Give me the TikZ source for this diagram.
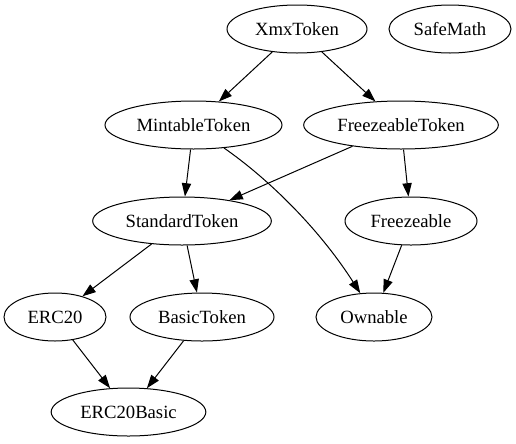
\documentclass[tikz,border=0pt]{standalone}
\usepackage{fontspec}
\newfontfamily\labelfont{Liberation Serif}
\usetikzlibrary{shapes.geometric,arrows.meta}
\begin{document}
\begin{tikzpicture}[x=0.75pt,y=-0.75pt,
  cls/.style={draw,ellipse,inner sep=0pt,minimum height=36pt,line width=0.75pt,
    font=\labelfont\fontsize{14}{16.8}\selectfont},
  dep/.style={line width=0.75pt,-{Triangle[length=10pt,width=7pt]}}]
\useasboundingbox (0,0) rectangle (516,443);
% classes
\node[cls,minimum width=105pt]   (xmx)  at (297,29)  {XmxToken};
\node[cls,minimum width=91.5pt]  (safe) at (450,29)  {SafeMath};
\node[cls,minimum width=132.75pt](mint) at (193.5,125) {MintableToken};
\node[cls,minimum width=146pt]   (frzt) at (401,125) {FreezeableToken};
\node[cls,minimum width=134pt]   (std)  at (182,221) {StandardToken};
\node[cls,minimum width=99pt]    (frz)  at (411,221) {Freezeable};
\node[cls,minimum width=76.5pt]  (erc)  at (55,317)  {ERC20};
\node[cls,minimum width=108pt]   (basic) at (202,317) {BasicToken};
\node[cls,minimum width=87pt]    (own)  at (374,317) {Ownable};
\node[cls,minimum width=116pt]   (ercb) at (128.5,412) {ERC20Basic};
% inheritance
\draw[dep] (xmx) -- (mint);
\draw[dep] (xmx) -- (frzt);
\draw[dep] (mint) -- (std);
\draw[dep] (mint.-37) .. controls (270,180) and (320,230) .. (own.120);
\draw[dep] (frzt) -- (std);
\draw[dep] (frzt) -- (frz);
\draw[dep] (std) -- (erc);
\draw[dep] (std) -- (basic);
\draw[dep] (frz) -- (own);
\draw[dep] (erc) -- (ercb);
\draw[dep] (basic) -- (ercb);
\end{tikzpicture}
\end{document}
